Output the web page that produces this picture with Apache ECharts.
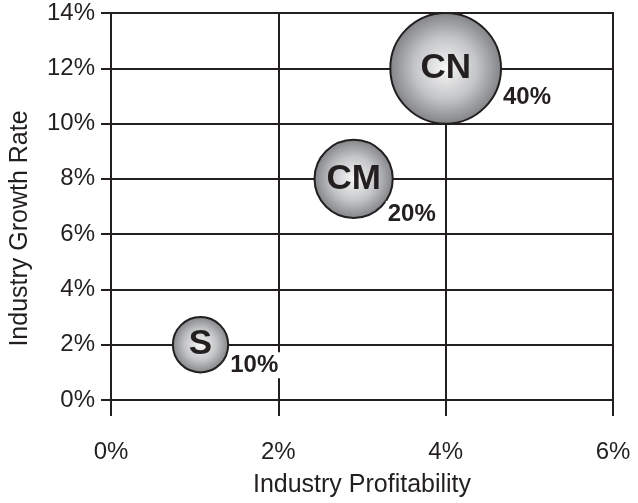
<!DOCTYPE html>
<html>
<head>
<meta charset="utf-8">
<script src="https://cdn.jsdelivr.net/npm/echarts@6/dist/echarts.min.js"></script>
<style>
  html, body { margin: 0; padding: 0; background: #fff; }
  #chart { width: 638px; height: 503px; }
</style>
</head>
<body>
<div id="chart"></div>
<script>
// data
const companies = ['CN', 'CM', 'S'];
const profitability = [4.0, 2.9, 1.07];   // x, %
const growthRate = [12, 8, 2];            // y, %
const marketShare = [40, 20, 10];         // bubble size, %

const ink = '#231f20';
const font = 'Liberation Sans, Arial, Helvetica, sans-serif';
const sizeOf = share => Math.sqrt(share) * 17.5;
// how far each share label drops below the bubble centre, as a fraction of the radius
const labelDrop = [0.53, 0.9, 0.74];

const chart = echarts.init(document.getElementById('chart'));

const bubbles = companies.map((c, i) => ({
    name: c,
    value: [profitability[i], growthRate[i], marketShare[i]]
}));

// share labels sit just off the lower right of each bubble
const shareLabels = companies.map((c, i) => {
    const r = sizeOf(marketShare[i]) / 2;
    return {
        name: c,
        value: [profitability[i], growthRate[i], marketShare[i]],
        label: { offset: [i === 1 ? -7 : 0, r * labelDrop[i]] }
    };
});

const option = {
    animation: false,
    textStyle: { fontFamily: font, color: ink },
    grid: {
        left: 110,
        right: 25,
        top: 13,
        bottom: 102,
        show: true,
        borderColor: ink,
        borderWidth: 2
    },
    xAxis: {
        type: 'value',
        min: 0,
        max: 6,
        interval: 2,
        name: 'Industry Profitability',
        nameLocation: 'middle',
        nameGap: 73,
        nameTextStyle: { fontSize: 25, color: ink, fontFamily: font },
        axisLine: { show: true, lineStyle: { color: ink, width: 2 } },
        axisTick: { show: true, length: 16, lineStyle: { color: ink, width: 2 } },
        axisLabel: { formatter: '{value}%', fontSize: 24, color: ink, margin: 40, fontFamily: font },
        splitLine: { show: true, lineStyle: { color: ink, width: 2 } }
    },
    yAxis: {
        type: 'value',
        min: 0,
        max: 14,
        interval: 2,
        name: 'Industry Growth Rate',
        nameLocation: 'middle',
        nameGap: 78,
        nameTextStyle: { fontSize: 25, color: ink, fontFamily: font, padding: [0, 44, 0, 0] },
        axisLine: { show: true, lineStyle: { color: ink, width: 2 } },
        axisTick: { show: true, length: 10, lineStyle: { color: ink, width: 2 } },
        axisLabel: { formatter: '{value}%', fontSize: 24, color: ink, margin: 16, fontFamily: font, padding: [5, 0, 0, 0] },
        splitLine: { show: true, lineStyle: { color: ink, width: 2 } }
    },
    series: [
        {
            type: 'scatter',
            data: bubbles,
            symbolSize: v => sizeOf(v[2]),
            itemStyle: {
                color: {
                    type: 'radial', x: 0.5, y: 0.5, r: 0.5,
                    colorStops: [
                        { offset: 0, color: '#f7f7f7' },
                        { offset: 0.55, color: '#c4c5c7' },
                        { offset: 1, color: '#808285' }
                    ]
                },
                borderColor: ink,
                borderWidth: 2,
                opacity: 1
            },
            label: {
                show: true,
                position: 'inside',
                formatter: p => p.name,
                fontSize: 35,
                fontWeight: 'bold',
                color: ink,
                fontFamily: font
            },
            emphasis: { disabled: true },
            z: 3
        },
        {
            type: 'scatter',
            data: shareLabels,
            symbolSize: v => sizeOf(v[2]),
            itemStyle: { color: 'rgba(0,0,0,0)', opacity: 1 },
            label: {
                show: true,
                position: 'right',
                distance: 0,
                formatter: p => p.value[2] + '%',
                fontSize: 24,
                fontWeight: 'bold',
                color: ink,
                fontFamily: font,
                backgroundColor: '#fff',
                padding: [1, 2, 1, 2]
            },
            emphasis: { disabled: true },
            silent: true,
            z: 4
        }
    ]
};

option && chart.setOption(option);
</script>
</body>
</html>
